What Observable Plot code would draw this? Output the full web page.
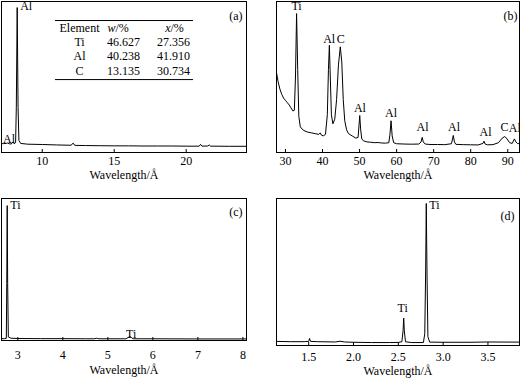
<!DOCTYPE html>
<html><head><meta charset="utf-8">
<script src="https://cdn.jsdelivr.net/npm/d3@7"></script>
<script src="https://cdn.jsdelivr.net/npm/@observablehq/plot@0.6"></script>
<style>
body{margin:0;background:#fff;}
#wrap{position:relative;width:520px;height:380px;overflow:hidden;background:#fff;}
#wrap > div{position:absolute;}
#wrap svg, #wrap svg text{font-family:"Liberation Serif","Times New Roman",serif !important;}
</style></head><body><div id="wrap"></div>
<script>
// ---------- Panel (a) ----------
const aWave   = [7.17,7.3,7.5,7.6,7.7,7.85,7.95,8.05,8.15,8.2,8.26,8.32,8.38,8.5,9,10,11,12,12.15,12.25,12.35,13,14,15,16,17,18,19,20,20.9,21.0,21.1,21.5,21.6,21.7,22,23,24.19];
const aCounts = [5.8,5.9,6.0,6.3,5.8,5.6,7.0,5.8,6.5,30,96,30,8,6,5.5,5.3,5.0,4.8,6.2,4.8,4.7,4.6,4.5,4.4,4.4,4.3,4.3,4.3,4.2,4.2,5.4,4.2,4.3,5.0,4.2,4.2,4.1,4.1];
const aTicks  = [10,15,20];
const aPeakText = ["Al","Al"];
const aPeakX    = [8.26,7.69];
const aPeakY    = [96.7,8.6];
const aPeakAnchor = ["start","middle"];
// composition table
const tableElements = ["Ti","Al","C"];
const tableW = ["46.627","40.238","13.135"];
const tableX = ["27.356","41.910","30.734"];
const tableHeaderFirst = "Element";
const tableHeaderVars = ["w","x"];
const tableHeaderSuffix = "/%";

// ---------- Panel (b) ----------
const bWave = [27.58,28.0,28.5,29.0,29.5,30.0,30.5,31.0,31.5,32.0,32.4,32.7,33.0,33.3,33.6,34.0,34.5,35.0,36.0,37.0,38.0,39.0,39.4,39.7,40.2,40.8,41.3,41.6,41.85,42.1,42.4,42.8,43.3,43.8,44.3,44.8,45.2,45.6,46.0,46.5,47.0,48.0,49.0,49.6,49.85,50.05,50.3,50.6,51.0,52,53,54,55,56,57,57.9,58.2,58.5,58.8,59.2,60,62,64,66,66.6,66.9,67.2,67.7,69,71,73,74.8,75.1,75.3,75.6,76,78,80,82,83.3,83.6,83.9,84.5,86,87.5,88.5,89.2,89.8,90.5,91.2,91.8,92.2,92.6,93.17];
const bCounts = [53,47,42,38.5,36,34.5,33,31.5,29.5,27.5,28,50,92,55,24,17,15.5,14.5,13.5,13,12.5,12,13,11.5,11,12,25,55,71,50,25,19,22,35,58,70,60,35,21,15,12.5,11,9.5,10,18,24.5,15,9,7.8,7,6.8,6.5,6.6,6.3,6.2,6.5,12,21,11,6.5,5.8,5.6,5.5,5.6,7,10,7,5.6,5.3,5.3,5.2,5.8,9,11.3,7,5.4,5.2,5.1,5.0,6,7.5,5.6,5.1,5.2,6.5,9.5,10.6,9,6.5,6,9,7,6,5.8];
const bTicks = [30,40,50,60,70,80,90];
const bPeakText = ["Ti","Al","C","Al","Al","Al","Al","Al","C","Al"];
const bPeakX    = [33.0,41.8,44.9,50.1,58.5,67.0,75.5,84.0,89.1,91.9];
const bPeakY    = [97,74.8,74.8,29.1,25.8,16.6,16.6,13.2,16.6,15.9];

// ---------- Panel (c) ----------
const cWave   = [2.638,2.70,2.745,2.755,2.765,2.775,2.79,2.85,3.0,3.5,4.0,4.5,4.7,4.75,4.8,5.0,5.4,5.49,5.52,5.56,6.0,7.0,8.08];
const cCounts = [1.3,1.3,1.5,40,95,40,2.5,1.6,1.4,1.3,1.3,1.2,1.2,1.6,1.2,1.2,1.2,2.8,2.2,1.2,1.2,1.1,1.1];
const cTicks  = [3,4,5,6,7,8];
const cPeakText = ["Ti","Ti"];
const cPeakX    = [2.765,5.52];
const cPeakY    = [95,4.7];
const cPeakAnchor = ["start","middle"];

// ---------- Panel (d) ----------
const dWave   = [1.141,1.3,1.45,1.50,1.51,1.52,1.6,1.8,1.85,1.9,2.0,2.2,2.4,2.5,2.54,2.553,2.56,2.567,2.58,2.65,2.78,2.795,2.805,2.812,2.82,2.83,2.85,3.0,3.3,3.5,3.852];
const dCounts = [2.8,2.6,2.6,2.8,4.8,2.8,2.6,2.4,2.9,2.4,2.2,2.0,2.0,2.1,2.6,10,18.7,10,2.5,2.0,2.0,8,50,96.6,50,6,2.3,2.2,2.2,2.4,2.3];
const dTicks  = [1.5,2.0,2.5,3.0,3.5];
const dPeakText = ["Ti","Ti"];
const dPeakX    = [2.812,2.549];
const dPeakY    = [95.2,25.2];
const dPeakAnchor = ["start","middle"];

const xLabel = "Wavelength/Å";
const FONT = "Liberation Serif";

function panel(cfg) {
  const series = cfg.wave.map((w, i) => ({w, c: cfg.counts[i]}));
  const peaks = cfg.peakText.map((t, i) => ({t, x: cfg.peakX[i], y: cfg.peakY[i], a: cfg.peakAnchor ? cfg.peakAnchor[i] : "middle"}));
  const marks = [
    Plot.line(series, {x: "w", y: "c", stroke: "black", strokeWidth: 1, clip: true}),
    Plot.frame({stroke: "black", strokeWidth: 1}),
    Plot.axisX(cfg.ticks, {tickSize: -3, tickPadding: cfg.tickPad, fontSize: 12, fontFamily: FONT, label: null, tickFormat: cfg.tickFormat}),
    Plot.text([xLabel], {frameAnchor: "bottom", dy: cfg.labelDy, fontSize: 12, fontFamily: FONT}),
    Plot.text([cfg.letter], {frameAnchor: "top-right", textAnchor: "end", dx: cfg.letterDx, dy: cfg.letterDy, fontSize: 12, fontFamily: FONT}),
    Plot.text(peaks.filter(p => p.a === "start"), {x: "x", y: "y", text: "t", textAnchor: "start", dx: 3, fontSize: 12, fontFamily: FONT}),
    Plot.text(peaks.filter(p => p.a !== "start"), {x: "x", y: "y", text: "t", textAnchor: "middle", fontSize: 12, fontFamily: FONT})
  ];
  if (cfg.extra) marks.push(...cfg.extra);
  const svg = Plot.plot({
    width: cfg.width, height: cfg.height,
    marginLeft: cfg.ml, marginRight: cfg.mr, marginTop: cfg.mt, marginBottom: cfg.mb,
    x: {domain: cfg.xDomain, label: null},
    y: {domain: [0, 100], axis: null},
    style: {fontFamily: FONT, color: "black", background: "transparent", overflow: "visible"},
    marks
  });
  const div = document.createElement("div");
  div.style.left = cfg.left + "px";
  div.style.top = cfg.top + "px";
  div.appendChild(svg);
  document.getElementById("wrap").appendChild(div);
}

// table marks for panel (a), placed in data units
const tableRowY = [72.8, 63.6, 53.6];
const tableRows = tableElements.map((e, i) => ({e, w: tableW[i], x: tableX[i], y: tableRowY[i]}));
const colX = {el: 12.59, w: 15.65, x: 19.12};
const headers = tableHeaderVars.map((v, i) => ({v, x: [15.3, 19.12][i]}));
const tableMarks = [
  Plot.ruleY([87.4, 48.3], {x1: 10.92, x2: 20.51, stroke: "black", strokeWidth: 1}),
  Plot.text([tableHeaderFirst], {x: colX.el, y: 82.1, fontSize: 12, fontFamily: FONT}),
  Plot.text(headers, {x: "x", y: 82.1, text: "v", fontStyle: "italic", textAnchor: "end", dx: -3, fontSize: 12, fontFamily: FONT}),
  Plot.text(headers, {x: "x", y: 82.1, text: () => tableHeaderSuffix, textAnchor: "start", dx: -3, fontSize: 12, fontFamily: FONT}),
  Plot.text(tableRows, {x: colX.el, y: "y", text: "e", fontSize: 12, fontFamily: FONT}),
  Plot.text(tableRows, {x: colX.w, y: "y", text: "w", fontSize: 12, fontFamily: FONT}),
  Plot.text(tableRows, {x: colX.x, y: "y", text: "x", fontSize: 12, fontFamily: FONT})
];

panel({left: 0, top: 0, width: 248, height: 190, ml: 1, mr: 2, mt: 1, mb: 38,
  wave: aWave, counts: aCounts, xDomain: [7.17, 24.19], ticks: aTicks, tickPad: 7,
  peakText: aPeakText, peakX: aPeakX, peakY: aPeakY, peakAnchor: aPeakAnchor,
  letter: "(a)", letterDx: -4, letterDy: 10, labelDy: 26, extra: tableMarks});

panel({left: 260, top: 0, width: 260, height: 190, ml: 16, mr: 1, mt: 1, mb: 38,
  wave: bWave, counts: bCounts, xDomain: [27.58, 93.17], ticks: bTicks, tickPad: 7,
  peakText: bPeakText, peakX: bPeakX, peakY: bPeakY,
  letter: "(b)", letterDx: -2, letterDy: 10, labelDy: 26});

panel({left: 0, top: 190, width: 248, height: 190, ml: 1, mr: 2, mt: 8, mb: 40,
  wave: cWave, counts: cCounts, xDomain: [2.638, 8.08], ticks: cTicks, tickPad: 13,
  peakText: cPeakText, peakX: cPeakX, peakY: cPeakY, peakAnchor: cPeakAnchor,
  letter: "(c)", letterDx: -4, letterDy: 9, labelDy: 33});

panel({left: 260, top: 190, width: 260, height: 190, ml: 16, mr: 1, mt: 8, mb: 35,
  wave: dWave, counts: dCounts, xDomain: [1.141, 3.852], ticks: dTicks, tickPad: 10, tickFormat: d3.format(".1f"),
  peakText: dPeakText, peakX: dPeakX, peakY: dPeakY, peakAnchor: dPeakAnchor,
  letter: "(d)", letterDx: -5, letterDy: 13, labelDy: 29});
</script></body></html>
